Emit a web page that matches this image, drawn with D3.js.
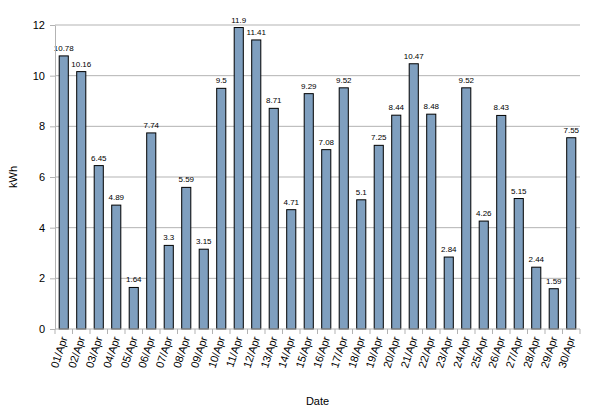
<!DOCTYPE html>
<html><head><meta charset="utf-8">
<script src="https://cdn.jsdelivr.net/npm/d3@7"></script>
<style>body{margin:0;background:#fff}text{font-family:"Liberation Sans",Arial,sans-serif}</style>
</head><body><svg id="c" width="596" height="414"></svg>
<script>
const dates = d3.range(1, 31).map(d => String(d).padStart(2, "0") + "/Apr");
const kwh = [10.78, 10.16, 6.45, 4.89, 1.64, 7.74, 3.3, 5.59, 3.15, 9.5, 11.9, 11.41, 8.71, 4.71, 9.29, 7.08, 9.52, 5.1, 7.25, 8.44, 10.47, 8.48, 2.84, 9.52, 4.26, 8.43, 5.15, 2.44, 1.59, 7.55];
const yTicks = [0, 2, 4, 6, 8, 10, 12];

const m = {l: 55, r: 16, t: 25, b: 85};
const W = 596, H = 414;
const svg = d3.select("#c");
const x = d3.scaleBand().domain(dates).range([m.l, W - m.r]).paddingInner(0.48).paddingOuter(0.24);
const y = d3.scaleLinear().domain([0, 12]).range([H - m.b, m.t]);

// grid
svg.selectAll(".grid").data(yTicks.slice(1)).join("line")
  .attr("x1", m.l).attr("x2", W - m.r).attr("y1", d => y(d)).attr("y2", d => y(d))
  .attr("stroke", "#b3b3b3");

svg.selectAll(".bar").data(kwh).join("rect")
  .attr("x", (d, i) => x(dates[i])).attr("width", x.bandwidth())
  .attr("y", d => y(d)).attr("height", d => y(0) - y(d))
  .attr("fill", "#7f9fbf").attr("stroke", "#000").attr("stroke-width", 1);

svg.selectAll(".lbl").data(kwh).join("text")
  .attr("x", (d, i) => x(dates[i]) + x.bandwidth() / 2).attr("y", d => y(d) - 5)
  .attr("text-anchor", "middle").attr("font-size", 8).attr("fill", "#000").text(d => d);

// y axis
const ya = svg.append("g").attr("transform", `translate(${m.l},0)`)
  .call(d3.axisLeft(y).tickValues(yTicks).tickSize(5).tickSizeOuter(0));
ya.select(".domain").attr("stroke", "#b3b3b3");
ya.selectAll("line").attr("stroke", "#b3b3b3");
ya.selectAll("text").attr("font-size", 11).attr("fill", "#000").attr("dx", -2);

// x axis
const step = x.step();
svg.append("line").attr("x1", m.l).attr("x2", W - m.r).attr("y1", y(0)).attr("y2", y(0)).attr("stroke", "#b3b3b3");
svg.selectAll(".xt").data(d3.range(31)).join("line")
  .attr("x1", i => m.l + i * (W - m.l - m.r) / 30).attr("x2", i => m.l + i * (W - m.l - m.r) / 30)
  .attr("y1", y(0)).attr("y2", y(0) + 5).attr("stroke", "#b3b3b3");
svg.selectAll(".xl").data(dates).join("text")
  .attr("transform", d => `translate(${x(d) + x.bandwidth() / 2 + 4},${y(0) + 9}) rotate(-72)`)
  .attr("text-anchor", "end").attr("font-size", 11).attr("fill", "#000").text(d => d);

svg.append("text").attr("x", (m.l + W - m.r) / 2).attr("y", 405).attr("text-anchor", "middle")
  .attr("font-size", 11).text("Date");
svg.append("text").attr("transform", `translate(17,${(m.t + H - m.b) / 2}) rotate(-90)`)
  .attr("text-anchor", "middle").attr("font-size", 11).text("kWh");
</script></body></html>
